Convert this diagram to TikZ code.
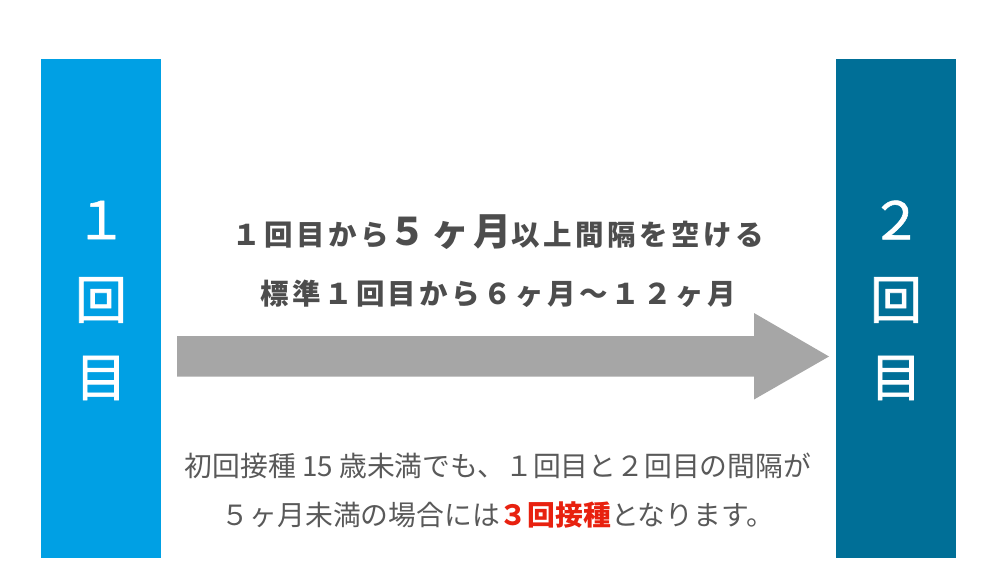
\documentclass[tikz,border=0pt]{standalone}
\usepackage{fontspec}
\newfontfamily\jp{Noto Sans CJK JP}
\usetikzlibrary{positioning}
\definecolor{barblue}{HTML}{00A0E4}
\definecolor{barteal}{HTML}{006F97}
\definecolor{arrowgray}{HTML}{A6A6A6}
\definecolor{titlegray}{HTML}{4D4D4D}
\definecolor{notegray}{HTML}{595959}
\definecolor{notered}{HTML}{E8210F}

\begin{document}
\begin{tikzpicture}[x=1pt,y=1pt]
  \tikzset{BarStyle/.style = {
    shape         = rectangle,
    draw          = none,
    minimum width = 120pt,
    minimum height= 499pt,
    inner sep     = 0pt,
    outer sep     = 0pt
    }
  }
  \tikzset{BarLabelStyle/.style = {
    text          = white,
    font          = \jp\fontsize{52}{52}\selectfont\addfontfeatures{FakeBold=1.2},
    inner sep     = 0pt
    }
  }
  \tikzset{TitleStyle/.style = {
    text          = titlegray,
    font          = \jp\bfseries\fontsize{28.5}{34}\selectfont\addfontfeatures{LetterSpace=12},
    inner sep     = 0pt
    }
  }
  \tikzset{NoteStyle/.style = {
    text          = notegray,
    font          = \jp\fontsize{27.8}{32}\selectfont,
    inner sep     = 0pt
    }
  }
  \tikzset{ArrowStyle/.style = {
    fill          = arrowgray,
    draw          = none
    }
  }

  \useasboundingbox (0,0) rectangle (1000,587);

	\node[BarStyle, fill=barblue](Bar1) at (101, 278.5) {};
	\node[BarStyle, fill=barteal](Bar2) at (896, 278.5) {};

	\node[BarLabelStyle](B1a) at (101, 367) {１};
	\node[BarLabelStyle](B1b) at (101, 287) {回};
	\node[BarLabelStyle](B1c) at (101, 209) {目};
	\node[BarLabelStyle](B2a) at (896, 367) {２};
	\node[BarLabelStyle](B2b) at (896, 287) {回};
	\node[BarLabelStyle](B2c) at (896, 209) {目};

	\coordinate (ArrowStart) at (177, 230.5);
	\coordinate (ArrowTip) at (829, 230.5);
	\fill[ArrowStyle] (ArrowStart) ++(0,20.5) -- ++(577,0) -- ++(0,23) -- (ArrowTip)
	  -- ++(-75,-43) -- ++(0,23) -- ++(-577,0) -- cycle;

	\node[TitleStyle](T1) at (498, 355) {１回目から{\fontsize{38}{34}\selectfont ５ヶ月}以上間隔を空ける};
	\node[TitleStyle, below=30pt of T1](T2) {標準１回目から６ヶ月〜１２ヶ月};

	\node[NoteStyle](N1) at (498, 121) {初回接種 15 歳未満でも、１回目と２回目の間隔が};
	\node[NoteStyle, below=22pt of N1](N2) {５ヶ月未満の場合には{\color{notered}\bfseries ３回接種}となります。};

\end{tikzpicture}
\end{document}
